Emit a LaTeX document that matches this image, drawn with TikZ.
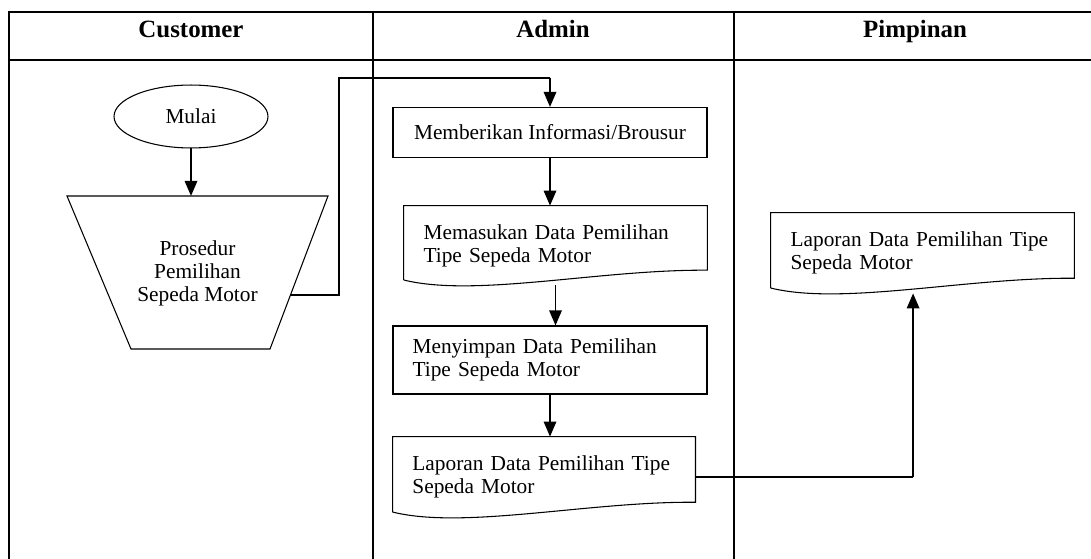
\documentclass[tikz,border=0pt]{standalone}
\usepackage{fontspec}
\setmainfont{Liberation Serif}
\usetikzlibrary{shapes.geometric,arrows.meta,calc}

\tikzset{
  teks/.style={font=\fontsize{12}{13}\selectfont},
  judul/.style={font=\fontsize{14}{16}\selectfont\bfseries, anchor=base},
  garis/.style={line width=0.6pt},
  tabel/.style={line width=1.1pt},
  panah/.style={line width=1.1pt, -{Triangle[width=7pt,length=8.5pt]}},
  proses/.style={teks, draw, garis, rectangle, align=left, inner xsep=11pt},
  dok/.style={teks, rectangle, align=left, inner xsep=11pt},
}

% bentuk dokumen (bawah bergelombang)
\newcommand{\dokumen}[1]{%
  \draw[garis] ([yshift=3pt]#1.south west) -- (#1.north west) -- (#1.north east)
    -- ([yshift=8.5pt]#1.south east)
    .. controls ($(#1.south)+(25pt,9pt)$) and ($(#1.south)+(-45pt,-7pt)$) .. ([yshift=3pt]#1.south west);}

\begin{document}
\begin{tikzpicture}[x=0.5625pt, y=-0.5625pt]
    \useasboundingbox (0,0) rectangle (1091,559);

    % tabel
    \draw[tabel] (9,559) -- (9,12) -- (1091,12);
    \draw[tabel] (9,60) -- (1091,60);
    \draw[tabel] (373,12) -- (373,559);
    \draw[tabel] (734,12) -- (734,559);
    \node[judul] (hcust) at (191,38) {Customer};
    \node[judul] (hadmin) at (553,38) {Admin};
    \node[judul] (hpimp) at (915,38) {Pimpinan};

    % customer
    \node[teks, draw, garis, ellipse, inner sep=0pt, minimum width=86.6pt, minimum height=35.4pt] (mulai) at (191,116.5) {Mulai};
    \node[teks, align=center] (prosedur) at (197.5,273) {Prosedur\\Pemilihan\\Sepeda Motor};
    \draw[garis] (67,196) -- (328,196) -- (270,349) -- (131,349) -- cycle;
    \coordinate (atastrap) at (191,196);
    \coordinate (trapkanan) at (290.5,295);
    \coordinate (belok) at (339,78);

    % admin
    \node[proses, align=center, minimum width=176.6pt, minimum height=28.1pt] (memberi) at (550,132.5) {Memberikan Informasi/Brousur};
    \node[dok, text width=148.4pt, minimum height=44.4pt] (memasukan) at (555.5,245.5) {Memasukan Data Pemilihan\\Tipe Sepeda Motor};
    \dokumen{memasukan}
    \node[proses, text width=154.6pt, minimum height=38.25pt] (menyimpan) at (550,360) {Menyimpan Data Pemilihan\\Tipe Sepeda Motor};
    \node[dok, text width=148pt, minimum height=45pt] (lapadmin) at (544,477) {Laporan Data Pemilihan Tipe\\Sepeda Motor};
    \dokumen{lapadmin}

    % pimpinan
    \node[dok, text width=148.4pt, minimum height=45pt] (lappim) at (922.5,253) {Laporan Data Pemilihan Tipe\\Sepeda Motor};
    \dokumen{lappim}
    \coordinate (tujuan) at ([xshift=-5.3pt]lappim.south);

    % alur
    \draw[panah] (mulai) -- (atastrap);
    \draw[garis] (trapkanan) -| (belok) -- (belok -| memberi.north);
    \draw[panah] (belok -| memberi.north) -- (memberi.north);
    \draw[panah] (memberi.south) -- (memberi.south |- memasukan.north);
    \draw[panah] (memasukan.south) -- (memasukan.south |- menyimpan.north);
    \draw[panah] (menyimpan.south) -- (menyimpan.south |- lapadmin.north);
    \draw[garis] (lapadmin.east) -- (lapadmin.east -| tujuan);
    \draw[panah] (lapadmin.east -| tujuan) -- (tujuan);
\end{tikzpicture}
\end{document}
